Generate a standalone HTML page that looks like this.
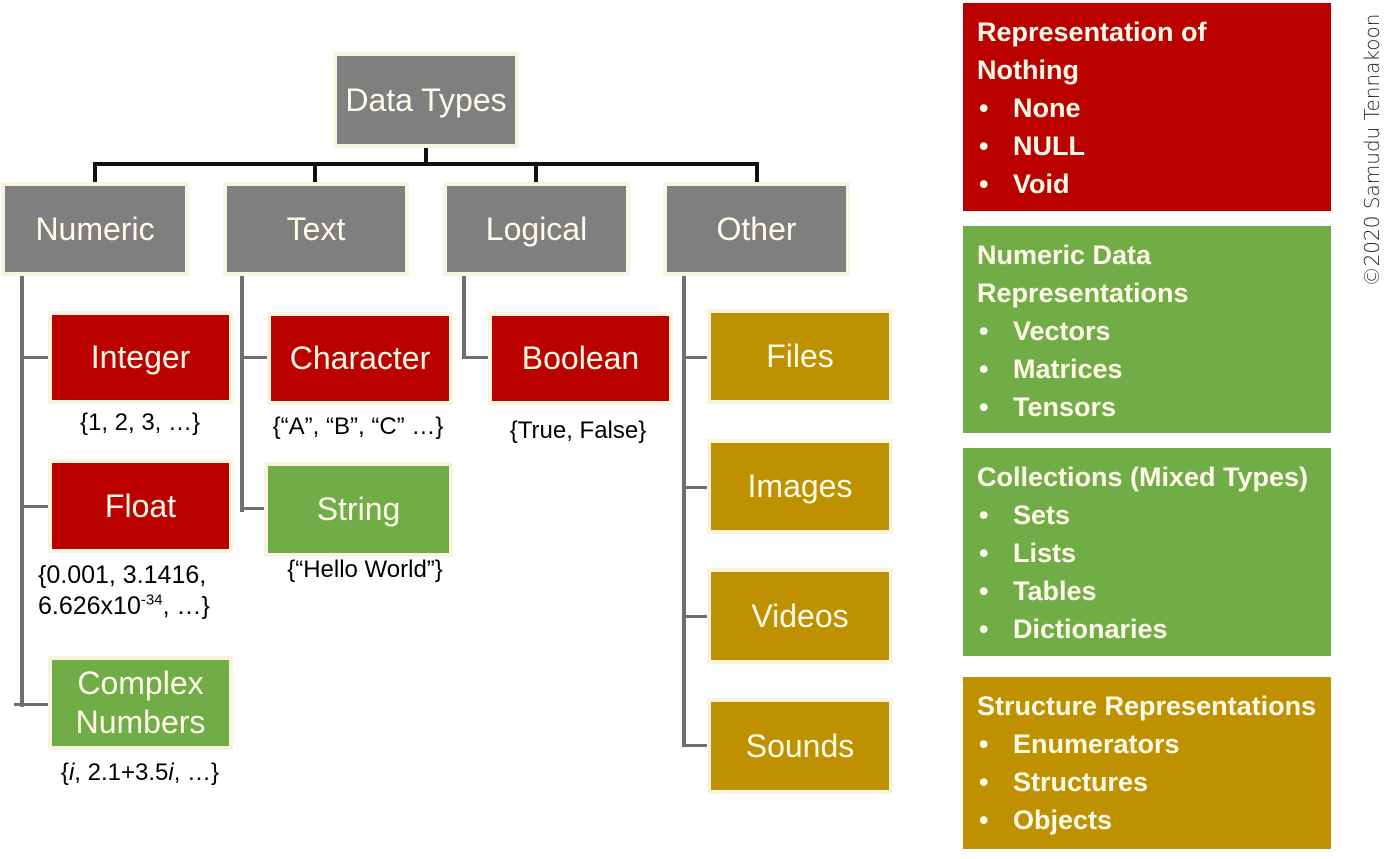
<!DOCTYPE html>
<html><head><meta charset="utf-8"><style>
body{margin:0;width:1400px;height:859px;background:#fff;position:relative;overflow:hidden;font-family:"Liberation Sans",sans-serif}
.b{position:absolute;display:flex;align-items:center;justify-content:center;text-align:center;color:#fffbe8;font-size:32px;line-height:39px;box-shadow:0 0 0 4px #f8f4e0;white-space:nowrap}
.g{background:#7f7f7f}.r{background:#bb0000}.gr{background:#70ad47}.o{background:#bf9000}
.l{position:absolute;background:#6f6f6f}
.k{position:absolute;background:#111}
.t{position:absolute;font-size:24px;color:#000;text-align:center;white-space:nowrap;line-height:30px}
.p{position:absolute;left:963px;width:368px;color:#fffbe8;font-weight:bold;font-size:27px;line-height:38px;box-sizing:border-box;padding:10px 0 0 14px;white-space:nowrap}
.p div.i{padding-left:36px;position:relative}
.p div.i:before{content:"•";position:absolute;left:2px}
</style></head><body>
<div class="k" style="left:424px;top:145px;width:4px;height:21px"></div>
<div class="k" style="left:93px;top:162px;width:666px;height:4px"></div>
<div class="k" style="left:93px;top:162px;width:4px;height:24px"></div>
<div class="k" style="left:313px;top:162px;width:4px;height:24px"></div>
<div class="k" style="left:534px;top:162px;width:4px;height:24px"></div>
<div class="k" style="left:755px;top:162px;width:4px;height:24px"></div>
<div class="l" style="left:20px;top:272px;width:4px;height:435px"></div>
<div class="l" style="left:20px;top:356px;width:32px;height:3px"></div>
<div class="l" style="left:20px;top:505px;width:32px;height:3px"></div>
<div class="l" style="left:14px;top:703px;width:38px;height:3px"></div>
<div class="l" style="left:240px;top:272px;width:4px;height:240px"></div>
<div class="l" style="left:240px;top:356px;width:31px;height:3px"></div>
<div class="l" style="left:240px;top:507px;width:28px;height:3px"></div>
<div class="l" style="left:462px;top:272px;width:4px;height:87px"></div>
<div class="l" style="left:462px;top:356px;width:30px;height:3px"></div>
<div class="l" style="left:682px;top:272px;width:4px;height:475px"></div>
<div class="l" style="left:682px;top:356px;width:29px;height:3px"></div>
<div class="l" style="left:682px;top:486px;width:29px;height:3px"></div>
<div class="l" style="left:682px;top:615px;width:29px;height:3px"></div>
<div class="l" style="left:682px;top:744px;width:29px;height:3px"></div>

<div class="b g" style="left:337px;top:56px;width:178px;height:88px">Data Types</div>
<div class="b g" style="left:5px;top:186px;width:180px;height:86px">Numeric</div>
<div class="b g" style="left:227px;top:186px;width:178px;height:86px">Text</div>
<div class="b g" style="left:447px;top:186px;width:179px;height:86px">Logical</div>
<div class="b g" style="left:667px;top:186px;width:179px;height:86px">Other</div>

<div class="b r" style="left:52px;top:315px;width:177px;height:85px">Integer</div>
<div class="b r" style="left:271px;top:316px;width:178px;height:85px">Character</div>
<div class="b r" style="left:492px;top:316px;width:177px;height:85px">Boolean</div>
<div class="b o" style="left:711px;top:313px;width:178px;height:87px">Files</div>
<div class="b r" style="left:52px;top:463px;width:177px;height:86px">Float</div>
<div class="b gr" style="left:268px;top:466px;width:181px;height:87px">String</div>
<div class="b o" style="left:711px;top:443px;width:178px;height:87px">Images</div>
<div class="b gr" style="left:52px;top:660px;width:177px;height:86px">Complex<br>Numbers</div>
<div class="b o" style="left:711px;top:572px;width:178px;height:88px">Videos</div>
<div class="b o" style="left:711px;top:702px;width:178px;height:88px">Sounds</div>

<div class="t" style="left:40px;width:200px;top:408px">{1, 2, 3, …}</div>
<div class="t" style="left:258px;width:200px;top:412px">{“A”, “B”, “C” …}</div>
<div class="t" style="left:478px;width:200px;top:416px">{True, False}</div>
<div class="t" style="left:265px;width:200px;top:555px">{“Hello World”}</div>
<div class="t" style="left:38px;top:560px;font-size:25px;text-align:left;line-height:31px">{0.001, 3.1416,<br>6.626x10<sup style="font-size:15px;line-height:0">-34</sup>, …}</div>
<div class="t" style="left:40px;width:200px;top:758px;font-size:24px">{<i>i</i>, 2.1+3.5<i>i</i>, …}</div>

<div class="p r" style="top:3px;height:208px">Representation of<br>Nothing<div class="i">None</div><div class="i">NULL</div><div class="i">Void</div></div>
<div class="p gr" style="top:226px;height:207px">Numeric Data<br>Representations<div class="i">Vectors</div><div class="i">Matrices</div><div class="i">Tensors</div></div>
<div class="p gr" style="top:448px;height:208px">Collections (Mixed Types)<div class="i">Sets</div><div class="i">Lists</div><div class="i">Tables</div><div class="i">Dictionaries</div></div>
<div class="p o" style="top:677px;height:172px">Structure Representations<div class="i">Enumerators</div><div class="i">Structures</div><div class="i">Objects</div></div>

<div style="position:absolute;left:1372px;top:150px;transform:translate(-50%,-50%) rotate(-90deg);white-space:nowrap;font-size:20px;color:#222;font-family:'DejaVu Sans',sans-serif;font-weight:200">©2020 Samudu Tennakoon</div>
</body></html>
